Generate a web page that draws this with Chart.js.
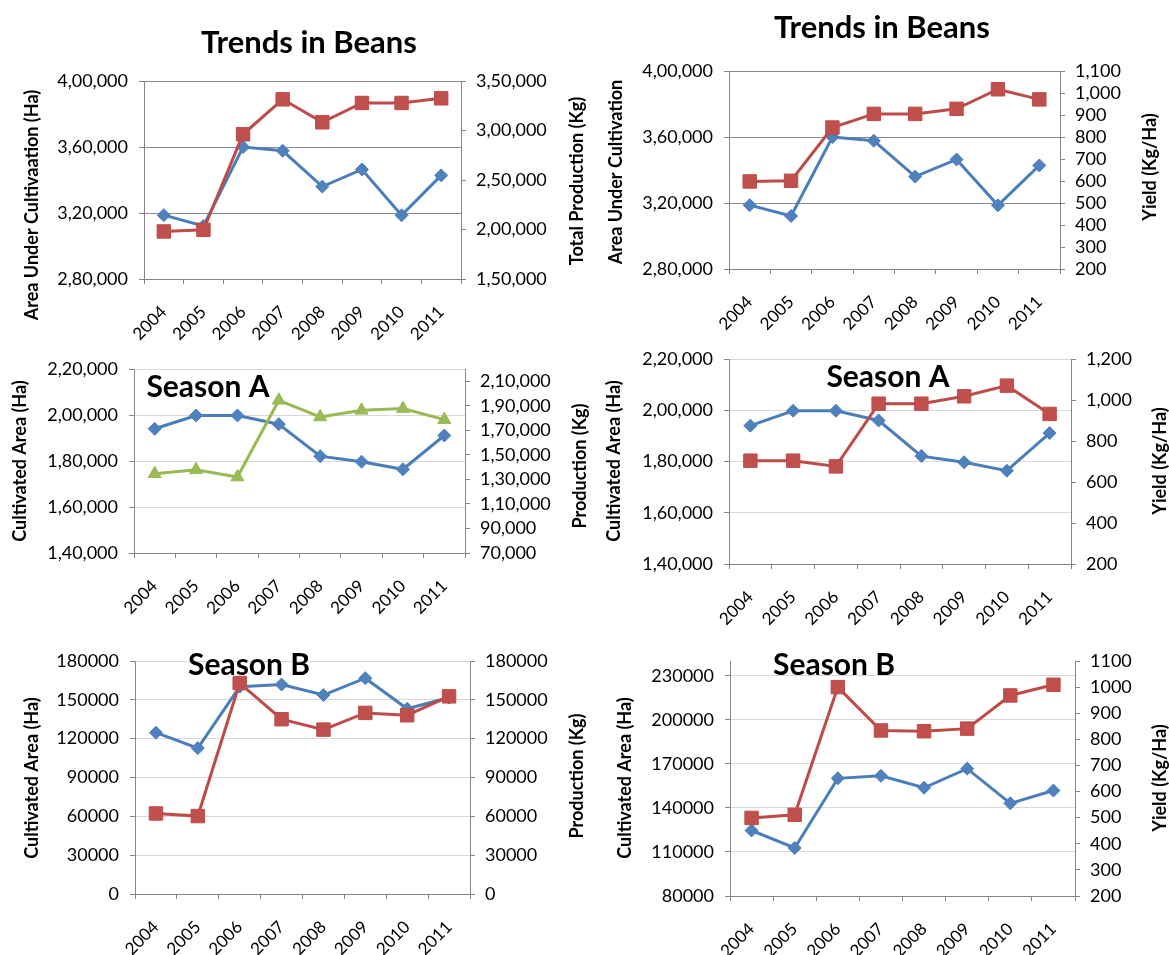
<!DOCTYPE html>
<html>
<head>
<meta charset="utf-8">
<script src="https://cdn.jsdelivr.net/npm/chart.js@4.4.1/dist/chart.umd.min.js"></script>
<style>
  html, body { margin: 0; padding: 0; background: #fff; }
  #page { position: relative; width: 1169px; height: 955px; overflow: hidden; background: #fff; }
  #page canvas { position: absolute; }
</style>
</head>
<body>
<div id="page"></div>
<script>
// ---- data -------------------------------------------------------------
const years = ['2004', '2005', '2006', '2007', '2008', '2009', '2010', '2011'];

// whole year
const areaTotal       = [318700, 312100, 360000, 357700, 336000, 346400, 318600, 342800];
const productionTotal = [198000, 199700, 296200, 331500, 308300, 327800, 327800, 332500];
const yieldTotal      = [598, 601, 843, 905, 905, 928, 1017, 971];

// season A
const areaSeasonA       = [194000, 199800, 199800, 196000, 182100, 179700, 176400, 191100];
const productionSeasonA = [134600, 137800, 131900, 194500, 180900, 186300, 187700, 178700];
const yieldSeasonA      = [704, 704, 676, 982, 982, 1018, 1070, 932];

// season B
const areaSeasonB       = [124600, 112700, 160100, 161800, 153700, 166700, 143100, 151800];
const productionSeasonB = [62200, 60200, 163000, 135000, 127000, 139900, 138100, 152700];
const yieldSeasonB      = [499, 511, 1000, 834, 831, 841, 968, 1009];

// tick labels
const ticksAreaTotal       = [280000, 320000, 360000, 400000];
const ticksProductionTotal = [150000, 200000, 250000, 300000, 350000];
const ticksYieldTotal      = [200, 300, 400, 500, 600, 700, 800, 900, 1000, 1100];
const ticksAreaA           = [140000, 160000, 180000, 200000, 220000];
const ticksProductionA     = [70000, 90000, 110000, 130000, 150000, 170000, 190000, 210000];
const ticksYieldA          = [200, 400, 600, 800, 1000, 1200];
const ticksSeasonB         = [0, 30000, 60000, 90000, 120000, 150000, 180000];
const ticksAreaB           = [80000, 110000, 140000, 170000, 200000, 230000];
const ticksYieldB          = [200, 300, 400, 500, 600, 700, 800, 900, 1000, 1100];

// ---- styles -----------------------------------------------------------
const FONT = 'Lato, "Open Sans", "DejaVu Sans", sans-serif';
const axisGrey  = '#868686';
const gridDark  = '#8a8a8a';
const gridLight = '#d9d9d9';

const seriesStyles = {
  area:  { line: '#4A7EBB', fill: '#4F81BD', pointStyle: 'rectRot',  radius: 6.5, order: 1 },
  red:   { line: '#BE4B48', fill: '#C0504D', pointStyle: 'rect',     radius: 9.5, order: 0 },
  green: { line: '#98B954', fill: '#9BBB59', pointStyle: 'triangle', radius: 7.5, order: 0 }
};

// Indian digit grouping: 4,00,000 / 90,000 / 1,100
function indian(v) {
  const s = String(Math.round(v));
  if (s.length <= 3) return s;
  const last3 = s.slice(-3);
  const rest = s.slice(0, -3).replace(/\B(?=(\d{2})+(?!\d))/g, ',');
  return rest + ',' + last3;
}
function plain(v) { return String(Math.round(v)); }

// ---- free text (titles, axis titles) -----------------------------------
const panelText = {
  id: 'panelText',
  afterDraw(chart, args, opts) {
    const ctx = chart.ctx;
    (opts.items || []).forEach(it => {
      ctx.save();
      ctx.font = it.font;
      ctx.fillStyle = '#000';
      ctx.textAlign = 'center';
      ctx.textBaseline = it.baseline || 'middle';
      ctx.translate(it.x, it.y);
      if (it.vertical) ctx.rotate(-Math.PI / 2);
      ctx.fillText(it.text, 0, 0);
      ctx.restore();
    });
  }
};

const titleFont  = 'bold 31px ' + FONT;
const seasonFont = 'bold 30px ' + FONT;
const axisFont   = 'bold 18px ' + FONT;

const panels = [
  {
    box: { x: 0, y: 0, w: 600, h: 350 }, plot: { l: 144, r: 461, t: 81, b: 279 },
    grid: gridDark,
    left:  { min: 280000, max: 400000, ticks: ticksAreaTotal, fmt: indian },
    right: { min: 150000, max: 350000, ticks: ticksProductionTotal, fmt: indian },
    series: [
      { label: 'Area', data: areaTotal, style: 'area', axis: 'yL' },
      { label: 'Production', data: productionTotal, style: 'red', axis: 'yR' }
    ],
    texts: [
      { text: 'Trends in Beans', x: 309, y: 53, font: titleFont, baseline: 'alphabetic' },
      { text: 'Area Under Cultivaation (Ha)', x: 32, y: 205, font: axisFont, vertical: true },
      { text: 'Total Production (Kg)', x: 577, y: 181, font: axisFont, vertical: true }
    ]
  },
  {
    box: { x: 588, y: 0, w: 581, h: 350 }, plot: { l: 729, r: 1060, t: 71, b: 269 },
    grid: gridDark,
    left:  { min: 280000, max: 400000, ticks: ticksAreaTotal, fmt: indian },
    right: { min: 200, max: 1100, ticks: ticksYieldTotal, fmt: indian },
    series: [
      { label: 'Area', data: areaTotal, style: 'area', axis: 'yL' },
      { label: 'Yield', data: yieldTotal, style: 'red', axis: 'yR' }
    ],
    texts: [
      { text: 'Trends in Beans', x: 882, y: 38, font: titleFont, baseline: 'alphabetic' },
      { text: 'Area Under Cultivation', x: 616, y: 172, font: axisFont, vertical: true },
      { text: 'Yield (Kg/Ha)', x: 1150, y: 167, font: axisFont, vertical: true }
    ]
  },
  {
    box: { x: 0, y: 335, w: 600, h: 295 }, plot: { l: 134, r: 465, t: 369, b: 553 },
    grid: gridLight,
    left:  { min: 140000, max: 220000, ticks: ticksAreaA, fmt: indian },
    right: { min: 70000, max: 220000, ticks: ticksProductionA, fmt: indian },
    series: [
      { label: 'Area', data: areaSeasonA, style: 'area', axis: 'yL' },
      { label: 'Production', data: productionSeasonA, style: 'green', axis: 'yR' }
    ],
    texts: [
      { text: 'Season A', x: 208, y: 397, font: seasonFont, baseline: 'alphabetic' },
      { text: 'Cultivated Area (Ha)', x: 20, y: 461, font: axisFont, vertical: true },
      { text: 'Production (Kg)', x: 580, y: 466, font: axisFont, vertical: true }
    ]
  },
  {
    box: { x: 588, y: 335, w: 581, h: 295 }, plot: { l: 729, r: 1071, t: 359, b: 564 },
    grid: gridLight,
    left:  { min: 140000, max: 220000, ticks: ticksAreaA, fmt: indian },
    right: { min: 200, max: 1200, ticks: ticksYieldA, fmt: indian },
    series: [
      { label: 'Area', data: areaSeasonA, style: 'area', axis: 'yL' },
      { label: 'Yield', data: yieldSeasonA, style: 'red', axis: 'yR' }
    ],
    texts: [
      { text: 'Season A', x: 888, y: 387, font: seasonFont, baseline: 'alphabetic' },
      { text: 'Cultivated Area (Ha)', x: 614, y: 461, font: axisFont, vertical: true },
      { text: 'Yield (Kg/Ha)', x: 1160, y: 461, font: axisFont, vertical: true }
    ]
  },
  {
    box: { x: 0, y: 628, w: 600, h: 327 }, plot: { l: 135, r: 470, t: 661, b: 894 },
    grid: gridLight,
    left:  { min: 0, max: 180000, ticks: ticksSeasonB, fmt: plain },
    right: { min: 0, max: 180000, ticks: ticksSeasonB, fmt: plain },
    series: [
      { label: 'Area', data: areaSeasonB, style: 'area', axis: 'yL' },
      { label: 'Production', data: productionSeasonB, style: 'red', axis: 'yR' }
    ],
    texts: [
      { text: 'Season B', x: 249, y: 675, font: seasonFont, baseline: 'alphabetic' },
      { text: 'Cultivated Area (Ha)', x: 32, y: 778, font: axisFont, vertical: true },
      { text: 'Production (Kg)', x: 577, y: 776, font: axisFont, vertical: true }
    ]
  },
  {
    box: { x: 588, y: 628, w: 581, h: 327 }, plot: { l: 730, r: 1075, t: 661, b: 896 },
    grid: gridLight,
    left:  { min: 80000, max: 240000, ticks: ticksAreaB, fmt: plain },
    right: { min: 200, max: 1100, ticks: ticksYieldB, fmt: plain },
    series: [
      { label: 'Area', data: areaSeasonB, style: 'area', axis: 'yL' },
      { label: 'Yield', data: yieldSeasonB, style: 'red', axis: 'yR' }
    ],
    texts: [
      { text: 'Season B', x: 834, y: 675, font: seasonFont, baseline: 'alphabetic' },
      { text: 'Cultivated Area (Ha)', x: 625, y: 778, font: axisFont, vertical: true },
      { text: 'Yield (Kg/Ha)', x: 1160, y: 778, font: axisFont, vertical: true }
    ]
  }
];

// ---- build -------------------------------------------------------------
const page = document.getElementById('page');

function yScale(side, cfg, width, gridColor) {
  const isLeft = side === 'left';
  return {
    type: 'linear',
    position: side,
    min: cfg.min,
    max: cfg.max,
    afterBuildTicks: s => { s.ticks = cfg.ticks.map(v => ({ value: v })); },
    afterFit: s => { s.width = width; },
    ticks: {
      autoSkip: false,
      callback: v => cfg.fmt(v),
      font: { family: FONT, size: 18 },
      color: '#000',
      padding: isLeft ? 11 : 10
    },
    grid: {
      drawOnChartArea: isLeft,
      color: gridColor,
      tickColor: axisGrey,
      tickLength: 5,
      lineWidth: 1
    },
    border: { color: axisGrey, width: 1 }
  };
}

panels.forEach(p => {
  const canvas = document.createElement('canvas');
  canvas.width = p.box.w;
  canvas.height = p.box.h;
  canvas.style.left = p.box.x + 'px';
  canvas.style.top = p.box.y + 'px';
  canvas.style.width = p.box.w + 'px';
  canvas.style.height = p.box.h + 'px';
  page.appendChild(canvas);

  const leftW = p.plot.l - p.box.x;
  const rightW = p.box.x + p.box.w - p.plot.r;
  const topPad = p.plot.t - p.box.y;
  const bottomH = p.box.y + p.box.h - p.plot.b;

  const datasets = p.series.map(s => {
    const st = seriesStyles[s.style];
    return {
      label: s.label,
      data: s.data,
      yAxisID: s.axis,
      borderColor: st.line,
      backgroundColor: st.fill,
      borderWidth: 3,
      pointStyle: st.pointStyle,
      pointRadius: st.radius,
      pointBackgroundColor: st.fill,
      pointBorderColor: st.line,
      pointBorderWidth: 1,
      tension: 0,
      order: st.order,
      clip: false
    };
  });

  const texts = p.texts.map(t => Object.assign({}, t, { x: t.x - p.box.x, y: t.y - p.box.y }));

  new Chart(canvas, {
    type: 'line',
    data: { labels: years, datasets },
    options: {
      responsive: false,
      animation: false,
      devicePixelRatio: 1,
      layout: { padding: { top: topPad, left: 0, right: 0, bottom: 0 } },
      plugins: {
        legend: { display: false },
        tooltip: { enabled: false },
        panelText: { items: texts }
      },
      scales: {
        x: {
          type: 'category',
          offset: true,
          afterFit: s => { s.height = bottomH; },
          grid: {
            offset: true,
            drawOnChartArea: false,
            color: axisGrey,
            tickColor: axisGrey,
            tickLength: 5
          },
          border: { color: axisGrey, width: 1 },
          ticks: {
            autoSkip: false,
            minRotation: 45,
            maxRotation: 45,
            padding: 18,
            font: { family: FONT, size: 17 },
            color: '#000'
          }
        },
        yL: yScale('left', p.left, leftW, p.grid),
        yR: yScale('right', p.right, rightW, p.grid)
      }
    },
    plugins: [panelText]
  });
});
</script>
</body>
</html>
